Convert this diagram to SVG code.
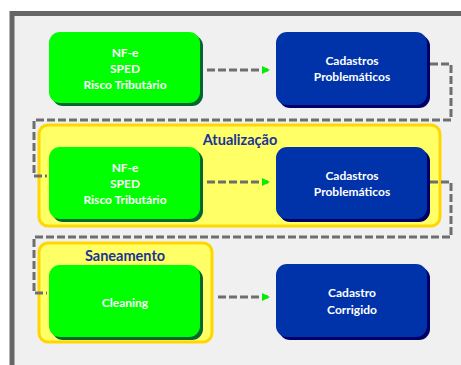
<svg xmlns="http://www.w3.org/2000/svg" width="461" height="365" viewBox="0 0 461 365">
<style>
.frame{fill:#f0f0f0;stroke:#666;stroke-width:5}
.grp{fill:#ffff66;stroke:#ffd700;stroke-width:3}
.gs{fill:#006633}
.g{fill:#00ff00}
.bs{fill:#000066}
.b{fill:#0033aa}
.t{font-family:Lato,"Open Sans",sans-serif;font-weight:bold;font-size:12px;fill:#fff;text-anchor:middle}
.h{font-family:Lato,"Open Sans",sans-serif;font-weight:bold;font-size:14.5px;fill:#1a3399;text-anchor:middle}
.c{fill:none;stroke:#6e6e6e;stroke-width:3;stroke-dasharray:8,3}
</style>
<defs>
<marker id="ah" markerWidth="8" markerHeight="8" refX="6" refY="4" orient="auto" markerUnits="userSpaceOnUse">
<path d="M0,0 L8,4 L0,8 Z" fill="#00ee00"/>
</marker>
</defs>
<rect width="461" height="365" fill="#fff"/>
<rect class="frame" x="12" y="13.5" width="460" height="360"/>
<g id="grp-atualizacao">
<rect class="grp" x="39" y="125" width="401" height="101" rx="9"/>
<text class="h" x="240" y="145">Atualização</text>
</g>
<g id="grp-saneamento">
<rect class="grp" x="39" y="243" width="173" height="99" rx="9"/>
<text class="h" x="125" y="261">Saneamento</text>
</g>
<g id="connectors">
<path class="c" d="M207,70 L268,70" marker-end="url(#ah)"/>
<path class="c" d="M430,64 L451,64 L451,120 L34,120 L34,176 L47,176"/>
<path class="c" d="M207,182 L268,182" marker-end="url(#ah)"/>
<path class="c" d="M430,182 L451,182 L451,237 L34,237 L34,293 L47,293"/>
<path class="c" d="M218,297 L268,297" marker-end="url(#ah)"/>
</g>
<g id="n1">
<rect class="gs" x="52" y="35" width="151" height="71" rx="11"/>
<rect class="g" x="49" y="32" width="151" height="71" rx="11"/>
<text class="t" x="125" y="57">NF-e</text>
<text class="t" x="125" y="73">SPED</text>
<text class="t" x="125" y="89">Risco Tributário</text>
</g>
<g id="n2">
<rect class="bs" x="279" y="35" width="151" height="73" rx="11"/>
<rect class="b" x="276" y="32" width="151" height="73" rx="11"/>
<text class="t" x="352" y="65">Cadastros</text>
<text class="t" x="352" y="81">Problemáticos</text>
</g>
<g id="n3">
<rect class="gs" x="52" y="150" width="151" height="72" rx="11"/>
<rect class="g" x="49" y="147" width="151" height="72" rx="11"/>
<text class="t" x="125" y="172">NF-e</text>
<text class="t" x="125" y="188">SPED</text>
<text class="t" x="125" y="204">Risco Tributário</text>
</g>
<g id="n4">
<rect class="bs" x="279" y="150" width="151" height="72" rx="11"/>
<rect class="b" x="276" y="147" width="151" height="72" rx="11"/>
<text class="t" x="352" y="180">Cadastros</text>
<text class="t" x="352" y="196">Problemáticos</text>
</g>
<g id="n5">
<rect class="gs" x="52" y="268" width="151" height="72" rx="11"/>
<rect class="g" x="49" y="265" width="151" height="72" rx="11"/>
<text class="t" x="125" y="307">Cleaning</text>
</g>
<g id="n6">
<rect class="bs" x="279" y="267" width="151" height="73" rx="11"/>
<rect class="b" x="276" y="264" width="151" height="73" rx="11"/>
<text class="t" x="352" y="297">Cadastro</text>
<text class="t" x="352" y="314">Corrigido</text>
</g>
</svg>
